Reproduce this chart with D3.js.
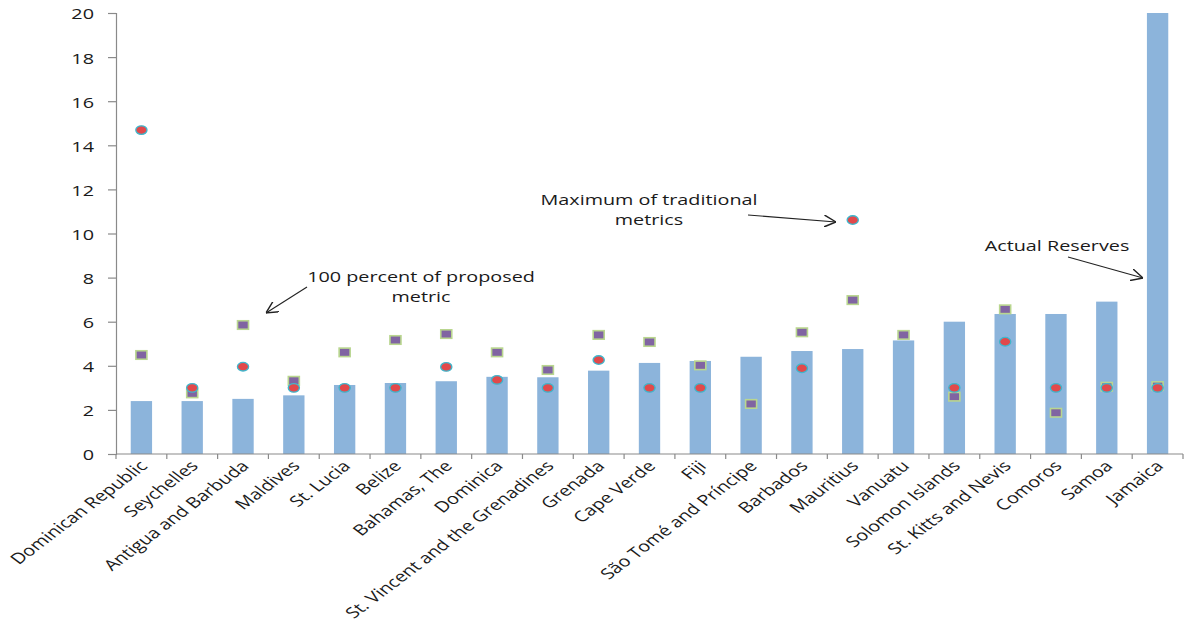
<!DOCTYPE html>
<html>
<head>
<meta charset="utf-8">
<script src="https://cdn.jsdelivr.net/npm/d3@7"></script>
<style>
  html, body { margin: 0; padding: 0; background: #ffffff; }
  svg { display: block; }
  text { font-family: "Open Sans", "Noto Sans", sans-serif; fill: #1a1a1a; }
</style>
</head>
<body>
<svg id="chart" width="1188" height="624"></svg>
<script>
// Countries, ordered by actual reserves
const categories = [
  "Dominican Republic", "Seychelles", "Antigua and Barbuda", "Maldives", "St. Lucia",
  "Belize", "Bahamas, The", "Dominica", "St. Vincent and the Grenadines", "Grenada",
  "Cape Verde", "Fiji", "São Tomé and Príncipe", "Barbados", "Mauritius",
  "Vanuatu", "Solomon Islands", "St. Kitts and Nevis", "Comoros", "Samoa", "Jamaica"
];

// Actual reserves (bars)
const actualReserves = [
  2.40, 2.40, 2.50, 2.66, 3.13, 3.22, 3.30, 3.50, 3.48, 3.78,
  4.13, 4.22, 4.41, 4.67, 4.76, 5.15, 6.00, 6.35, 6.35, 6.91, 20.0
];

// 100 percent of proposed metric (squares)
const proposedMetric = [
  4.49, 2.75, 5.85, 3.32, 4.61, 5.17, 5.44, 4.61, 3.81, 5.40,
  5.08, 4.02, 2.27, 5.52, 6.98, 5.40, 2.60, 6.56, 1.87, 3.05, 3.08
];

// Maximum of traditional metrics (circles); null where not shown
const traditionalMax = [
  14.69, 3.00, 3.96, 3.00, 3.00, 3.00, 3.95, 3.36, 3.00, 4.26,
  3.00, 3.00, null, 3.89, 10.61, null, 3.00, 5.09, 3.00, 3.00, 3.00
];

const yTicks = [0, 2, 4, 6, 8, 10, 12, 14, 16, 18, 20];

// Horizontal stretch applied to all text (wide rendering of the labels)
const SX = 1.32;

const svg = d3.select("#chart");
const plotLeft = 116, plotRight = 1183, plotTop = 13, plotBottom = 454;

const x = d3.scaleBand().domain(categories).range([plotLeft, plotRight]).padding(0);
const y = d3.scaleLinear().domain([0, 20]).range([plotBottom, plotTop]);
const axisColor = "#8a8a8a";

// Bars
const barW = x.bandwidth() * 0.42;
svg.append("g").selectAll("rect")
  .data(categories)
  .join("rect")
  .attr("x", (d) => x(d) + x.bandwidth() / 2 - barW / 2)
  .attr("y", (d, i) => y(actualReserves[i]))
  .attr("width", barW)
  .attr("height", (d, i) => y(0) - y(actualReserves[i]))
  .attr("fill", "#8cb4db");

// Y axis
const yAxis = svg.append("g").attr("transform", `translate(${plotLeft},0)`)
  .call(d3.axisLeft(y).tickValues(yTicks).tickSize(8).tickPadding(0).tickFormat(d3.format("d")));
yAxis.select(".domain").attr("stroke", axisColor).attr("stroke-width", 1.2);
yAxis.selectAll(".tick line").attr("stroke", axisColor).attr("stroke-width", 1.2);
yAxis.selectAll(".tick text")
  .attr("x", null).attr("dy", null)
  .attr("text-anchor", "end")
  .attr("dominant-baseline", "central")
  .attr("font-size", 15)
  .attr("font-family", "Open Sans")
  .attr("fill", "#1a1a1a")
  .attr("transform", `translate(-22,0) scale(${SX},1)`);

// X axis: baseline plus category-boundary ticks
const xAxis = svg.append("g").attr("transform", `translate(0,${plotBottom})`);
xAxis.append("line").attr("x1", plotLeft).attr("x2", plotRight).attr("stroke", axisColor).attr("stroke-width", 1.2);
const boundaries = categories.map((d) => x(d)).concat([plotRight]);
xAxis.selectAll("line.tick").data(boundaries).join("line")
  .attr("class", "tick")
  .attr("x1", (d) => d).attr("x2", (d) => d)
  .attr("y1", 0).attr("y2", 5)
  .attr("stroke", axisColor).attr("stroke-width", 1.2);

// Rotated category labels
xAxis.selectAll("text.cat").data(categories).join("text")
  .attr("class", "cat")
  .attr("text-anchor", "end")
  .attr("font-size", 15)
  .attr("transform", (d) => `translate(${x(d) + x.bandwidth() / 2 + 7},${13}) scale(${SX},1) rotate(-45)`)
  .text((d) => d);

// Proposed metric squares
const sqW = 11, sqH = 8.5;
svg.append("g").selectAll("rect")
  .data(categories)
  .join("rect")
  .attr("x", (d) => x(d) + x.bandwidth() / 2 - sqW / 2)
  .attr("y", (d, i) => y(proposedMetric[i]) - sqH / 2)
  .attr("width", sqW)
  .attr("height", sqH)
  .attr("fill", "#8064a2")
  .attr("stroke", "#b9d68f")
  .attr("stroke-width", 1.6);

// Traditional-maximum circles
svg.append("g").selectAll("ellipse")
  .data(categories.map((c, i) => ({ c, v: traditionalMax[i] })).filter((d) => d.v !== null))
  .join("ellipse")
  .attr("cx", (d) => x(d.c) + x.bandwidth() / 2)
  .attr("cy", (d) => y(d.v))
  .attr("rx", 5.6)
  .attr("ry", 4.3)
  .attr("fill", "#e2494b")
  .attr("stroke", "#3fb6cc")
  .attr("stroke-width", 1.3);

// Annotations
const defs = svg.append("defs");
defs.append("marker")
  .attr("id", "arrow")
  .attr("viewBox", "0 0 10 10")
  .attr("refX", 10).attr("refY", 5)
  .attr("markerWidth", 12).attr("markerHeight", 12)
  .attr("markerUnits", "userSpaceOnUse")
  .attr("orient", "auto")
  .append("path")
  .attr("d", "M0,0 L10,5 L0,10")
  .attr("fill", "none")
  .attr("stroke", "#222")
  .attr("stroke-width", 1.2);

function note(lines, cx, baseline, lineGap) {
  const g = svg.append("g");
  lines.forEach((t, k) => {
    g.append("text")
      .attr("text-anchor", "middle")
      .attr("font-size", 15)
      .attr("transform", `translate(${cx},${baseline + k * lineGap}) scale(${SX},1)`)
      .text(t);
  });
}
function arrow(x1, y1, x2, y2) {
  svg.append("line")
    .attr("x1", x1).attr("y1", y1).attr("x2", x2).attr("y2", y2)
    .attr("stroke", "#222").attr("stroke-width", 1.1)
    .attr("marker-end", "url(#arrow)");
}

note(["100 percent of proposed", "metric"], 421, 282, 20);
arrow(307, 287, 266, 313);

note(["Maximum of traditional", "metrics"], 649, 205, 20);
arrow(748, 215, 836, 222);

note(["Actual Reserves"], 1057, 251, 20);
arrow(1068, 257, 1143, 278);
</script>
</body>
</html>
